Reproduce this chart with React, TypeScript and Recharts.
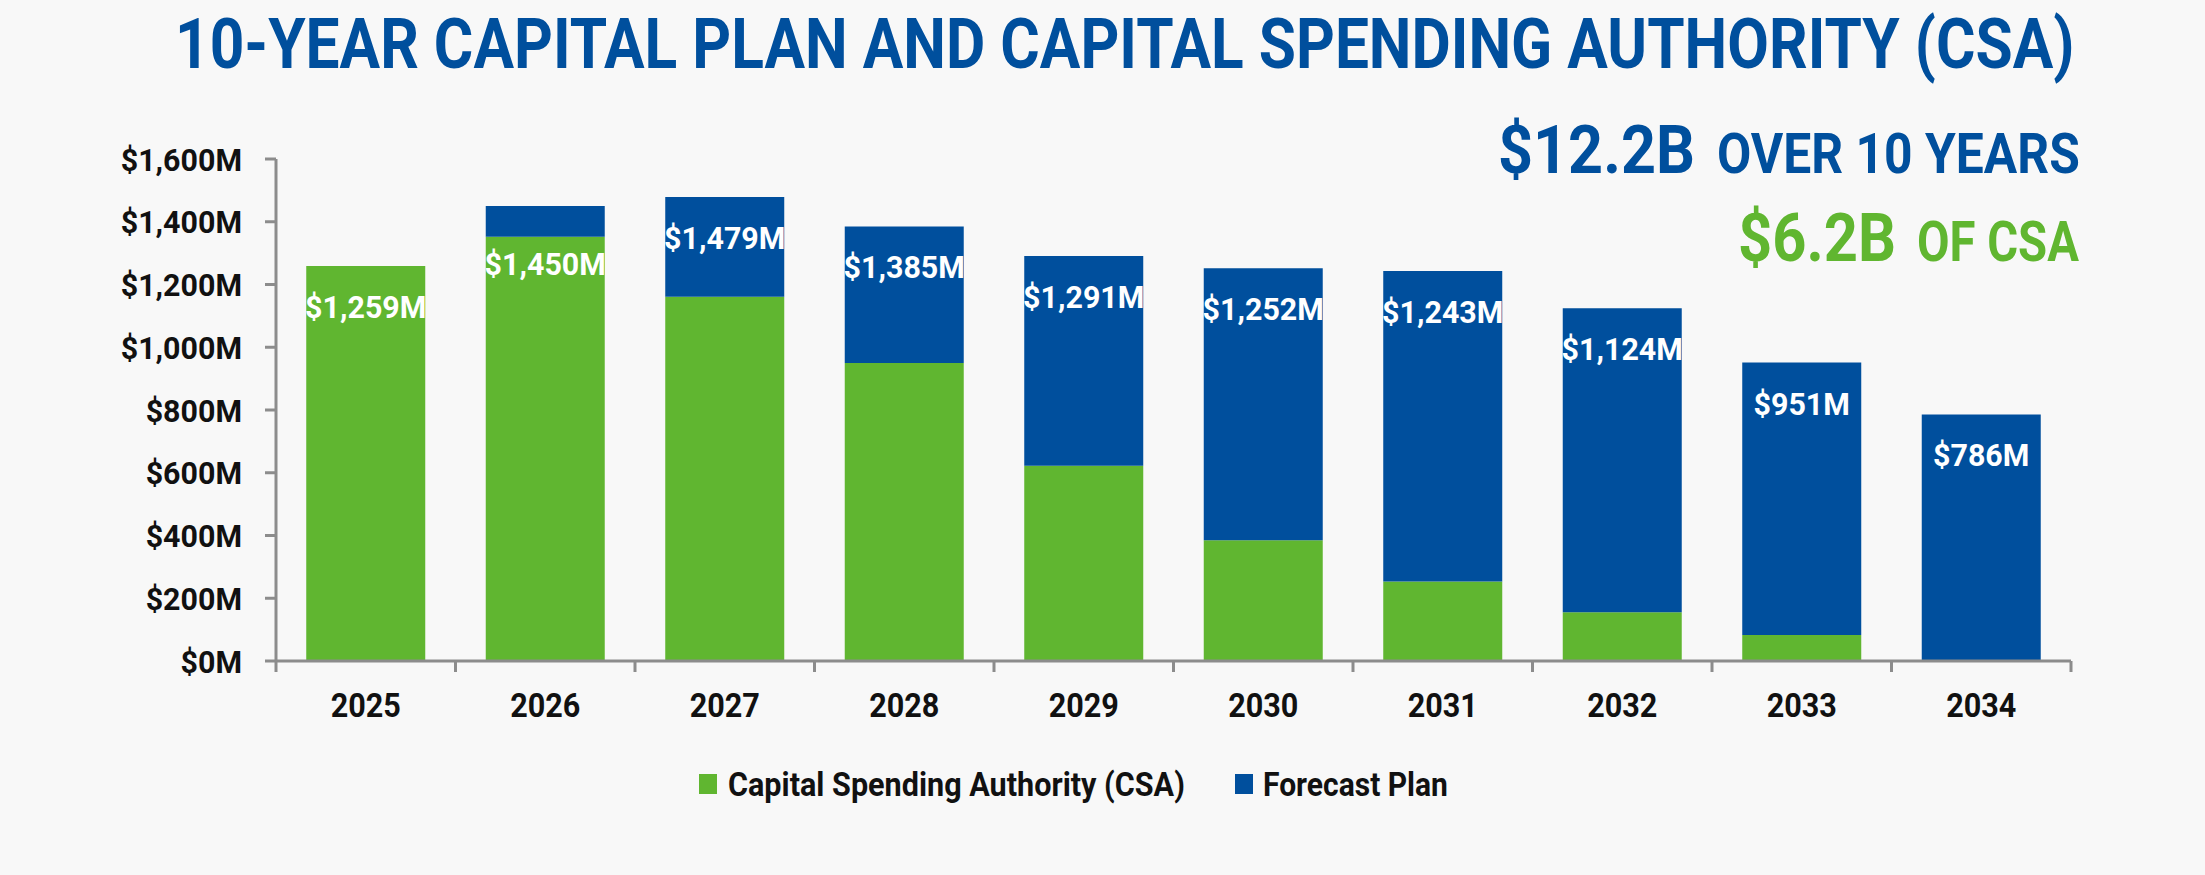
import React, { useLayoutEffect, useRef, useState } from 'react';
import { BarChart, Bar, XAxis, YAxis, LabelList } from 'recharts';

// values ($M)
const YEARS = ['2025', '2026', '2027', '2028', '2029', '2030', '2031', '2032', '2033', '2034'];
const CSA = [1259, 1352, 1161, 950, 622, 385, 253, 155, 83, 0];
const FORECAST = [0, 98, 318, 435, 669, 867, 990, 969, 868, 786];
const TOTALS = [1259, 1450, 1479, 1385, 1291, 1252, 1243, 1124, 951, 786];
const Y_TICKS = [0, 200, 400, 600, 800, 1000, 1200, 1400, 1600];

const GREEN = '#60B630';
const BLUE = '#004F9D';
const AXIS = '#8C8C8C';
const FONT = 'Roboto, "DejaVu Sans", sans-serif';

const W = 2205;
const H = 875;
const PLOT_LEFT = 276;
const PLOT_RIGHT = 2071;
const PLOT_TOP = 159;
const PLOT_BOTTOM = 661;
const BAND = (PLOT_RIGHT - PLOT_LEFT) / YEARS.length;

const data = YEARS.map((year, i) => ({
  year,
  csa: CSA[i],
  forecast: FORECAST[i],
  total: TOTALS[i],
}));

const money = (v: number) => `$${v.toLocaleString('en-US')}M`;

// squeezes a bold text horizontally so it spans the given width (condensed look)
const FitText = ({ x, y, width, size, fill, children }: any) => {
  const ref = useRef<SVGTextElement>(null);
  const [sx, setSx] = useState(1);
  useLayoutEffect(() => {
    if (ref.current) {
      const len = ref.current.getComputedTextLength();
      if (len > 0) setSx(width / len);
    }
  }, [width, children]);
  return (
    <text
      ref={ref}
      transform={`translate(${x},${y}) scale(${sx},1)`}
      fontFamily={FONT}
      fontWeight={700}
      fontSize={size}
      fill={fill}
    >
      {children}
    </text>
  );
};

const YTick = (props: any) => {
  const { x, y, payload } = props;
  return (
    <text
      transform={`translate(${x},${y + 11.5}) scale(0.95,1)`}
      textAnchor="end"
      fill="#111"
      fontFamily={FONT}
      fontWeight={700}
      fontSize={32}
    >
      {money(payload.value)}
    </text>
  );
};

const XTick = (props: any) => {
  const { x, y, payload, index } = props;
  const left = x - BAND / 2;
  const last = index === YEARS.length - 1;
  return (
    <g>
      <line x1={left} x2={left} y1={y} y2={y + 11} stroke={AXIS} strokeWidth={3} />
      {last && <line x1={x + BAND / 2} x2={x + BAND / 2} y1={y} y2={y + 11} stroke={AXIS} strokeWidth={3} />}
      <text
        transform={`translate(${x},${y + 56}) scale(0.9,1)`}
        textAnchor="middle"
        fill="#111"
        fontFamily={FONT}
        fontWeight={700}
        fontSize={34}
      >
        {payload.value}
      </text>
    </g>
  );
};

// total label, drawn from whichever segment is the top of the stack
const makeTotalLabel = (csaOnly: boolean) => (props: any) => {
  const vb = props.viewBox || props;
  const { x, y, width, height } = vb;
  const i = TOTALS.indexOf(props.value);
  if (i < 0 || (FORECAST[i] === 0) !== csaOnly) return null;
  // small forecast cap -> label drops into the green part
  const base = !csaOnly && height > 0 && height < 50 ? y + height + 38 : y + 52;
  return (
    <text
      transform={`translate(${x + width / 2},${base}) scale(0.95,1)`}
      textAnchor="middle"
      fill="#fff"
      fontFamily={FONT}
      fontWeight={700}
      fontSize={32}
    >
      {money(props.value)}
    </text>
  );
};

const CsaLabel = makeTotalLabel(true);
const ForecastLabel = makeTotalLabel(false);

const Titles = () => (
  <svg width={W} height={H} style={{ position: 'absolute', left: 0, top: 0, pointerEvents: 'none' }}>
    <FitText x={175} y={68} width={1900} size={70} fill={BLUE}>
      10-YEAR CAPITAL PLAN AND CAPITAL SPENDING AUTHORITY (CSA)
    </FitText>
    <FitText x={1498} y={173} width={197} size={67} fill={BLUE}>
      $12.2B
    </FitText>
    <FitText x={1717} y={173} width={363} size={56} fill={BLUE}>
      OVER 10 YEARS
    </FitText>
    <FitText x={1738} y={261} width={158} size={67} fill={GREEN}>
      $6.2B
    </FitText>
    <FitText x={1917} y={261} width={162} size={55} fill={GREEN}>
      OF CSA
    </FitText>

    {/* legend */}
    <rect x={699} y={774} width={18} height={20} fill={GREEN} />
    <FitText x={728} y={796} width={457} size={34} fill="#111">
      Capital Spending Authority (CSA)
    </FitText>
    <rect x={1235} y={774} width={18} height={20} fill={BLUE} />
    <FitText x={1263} y={796} width={185} size={34} fill="#111">
      Forecast Plan
    </FitText>
  </svg>
);

export default function App() {
  return (
    <div style={{ position: 'absolute', left: 0, top: 0, width: W, height: H, background: '#F8F8F8' }}>
      <BarChart
        width={W}
        height={H}
        data={data}
        barCategoryGap="16.85%"
        margin={{ top: PLOT_TOP, right: W - PLOT_RIGHT, left: PLOT_LEFT - 150, bottom: H - PLOT_BOTTOM - 60 }}
      >
        <XAxis
          dataKey="year"
          height={60}
          tickSize={0}
          tickMargin={0}
          tickLine={false}
          axisLine={{ stroke: AXIS, strokeWidth: 3 }}
          tick={<XTick />}
          interval={0}
        />
        <YAxis
          width={150}
          domain={[0, 1600]}
          ticks={Y_TICKS}
          tickSize={11}
          tickMargin={23}
          axisLine={{ stroke: AXIS, strokeWidth: 3 }}
          tickLine={{ stroke: AXIS, strokeWidth: 3 }}
          tick={<YTick />}
        />
        <Bar dataKey="csa" stackId="a" fill={GREEN} isAnimationActive={false}>
          <LabelList dataKey="total" content={<CsaLabel />} />
        </Bar>
        <Bar dataKey="forecast" stackId="a" fill={BLUE} isAnimationActive={false}>
          <LabelList dataKey="total" content={<ForecastLabel />} />
        </Bar>
      </BarChart>
      <Titles />
    </div>
  );
}
